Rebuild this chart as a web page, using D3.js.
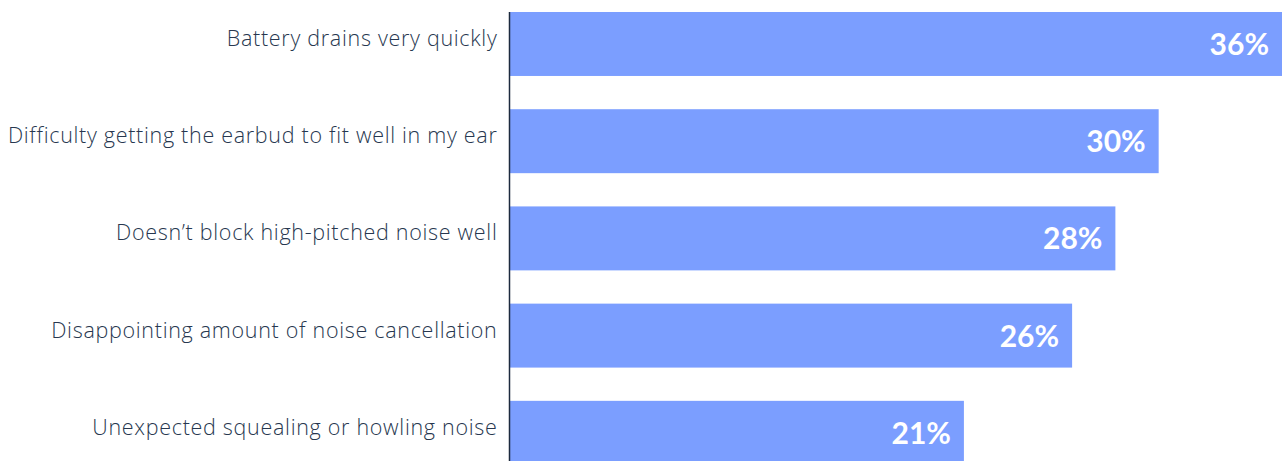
<!DOCTYPE html>
<html>
<head>
<meta charset="utf-8">
<script src="https://cdn.jsdelivr.net/npm/d3@7"></script>
<style>
  html, body { margin: 0; padding: 0; background: #fff; }
  svg { display: block; }
</style>
</head>
<body>
<svg id="chart" width="1282" height="461"></svg>
<script>
// Reported earbud problems (share of respondents)
const categories = [
  "Battery drains very quickly",
  "Difficulty getting the earbud to fit well in my ear",
  "Doesn\u2019t block high-pitched noise well",
  "Disappointing amount of noise cancellation",
  "Unexpected squealing or howling noise"
];
const values = [36, 30, 28, 26, 21];

const width = 1282, height = 461;
const axisX = 509.5;

const svg = d3.select("#chart");

const x = d3.scaleLinear()
  .domain([0, 35.7])
  .range([axisX, width])
  .clamp(true);

const y = d3.scaleBand()
  .domain(categories)
  .range([12, 464.8])
  .paddingInner(0.342)
  .paddingOuter(0);

const rows = categories.map((c, i) => ({ c, v: values[i] }));

// bars
svg.append("g").selectAll("rect")
  .data(rows)
  .join("rect")
  .attr("x", axisX)
  .attr("y", d => y(d.c))
  .attr("width", d => x(d.v) - axisX)
  .attr("height", y.bandwidth())
  .attr("fill", "#7b9eff");

// value labels inside bar ends
svg.append("g").selectAll("text")
  .data(rows)
  .join("text")
  .attr("x", d => x(d.v) - 13)
  .attr("y", d => y(d.c) + y.bandwidth() / 2 + 11)
  .attr("text-anchor", "end")
  .attr("fill", "#ffffff")
  .attr("font-family", "Lato, 'Open Sans', sans-serif")
  .attr("font-weight", 700)
  .attr("font-size", 30)
  .text(d => d.v + "%");

// category labels
svg.append("g").selectAll("text")
  .data(rows)
  .join("text")
  .attr("x", axisX - 12)
  .attr("y", d => y(d.c) + y.bandwidth() / 2 + 2)
  .attr("text-anchor", "end")
  .attr("fill", "#27374f")
  .attr("font-family", "'Open Sans', Lato, sans-serif")
  .attr("font-weight", 300)
  .attr("font-size", 21.5)
  .attr("letter-spacing", 0.7)
  .text(d => d.c);

// baseline axis
svg.append("line")
  .attr("x1", axisX).attr("x2", axisX)
  .attr("y1", 12).attr("y2", height)
  .attr("stroke", "#1c2a3e")
  .attr("stroke-width", 1.5);
</script>
</body>
</html>
